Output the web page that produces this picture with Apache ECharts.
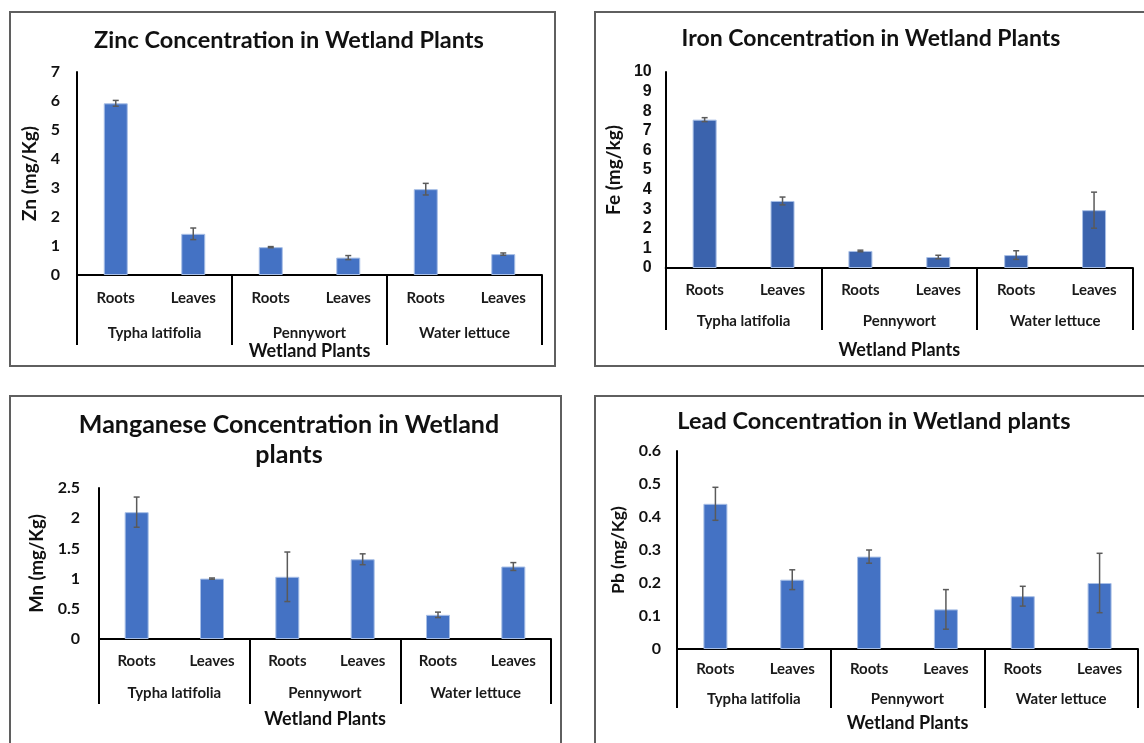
<!DOCTYPE html>
<html>
<head>
<meta charset="UTF-8">
<title>Metal Concentration in Wetland Plants</title>
<style>
body{margin:0;background:#fff;width:1144px;height:743px;overflow:hidden;position:relative;}
.panel{position:absolute;border:2px solid #5f5f5f;box-sizing:border-box;}
.panel .chart{position:absolute;left:0;top:0;right:0;bottom:0;}
</style>
</head>
<body>
	<div class="panel" id="p_zn"><div class="chart" id="zn_main"></div></div>
	<div class="panel" id="p_fe"><div class="chart" id="fe_main"></div></div>
	<div class="panel" id="p_mn"><div class="chart" id="mn_main"></div></div>
	<div class="panel" id="p_pb"><div class="chart" id="pb_main"></div></div>
<script type="text/javascript" src="https://cdn.jsdelivr.net/npm/echarts@6/dist/echarts.min.js"></script>
<script type="text/javascript">
// categories
var parts = ['Roots','Leaves','Roots','Leaves','Roots','Leaves'];
var plants = ['Typha latifolia','Pennywort','Water lettuce'];

// zinc (mg/Kg): mean and error
var znMean = [5.92, 1.42, 0.96, 0.60, 2.96, 0.72];
var znErr  = [0.10, 0.20, 0.02, 0.07, 0.20, 0.04];
var znTicks = [0, 7, 1];

// iron (mg/kg)
var feMean = [7.57, 3.42, 0.87, 0.56, 0.66, 2.95];
var feErr  = [0.10, 0.20, 0.04, 0.09, 0.22, 0.92];
var feTicks = [0, 10, 1];

// manganese (mg/Kg)
var mnMean = [2.10, 1.00, 1.03, 1.32, 0.40, 1.20];
var mnErr  = [0.25, 0.01, 0.41, 0.09, 0.045, 0.065];
var mnTicks = [0, 2.5, 0.5];

// lead (mg/Kg)
var pbMean = [0.44, 0.21, 0.28, 0.12, 0.16, 0.20];
var pbErr  = [0.05, 0.03, 0.02, 0.06, 0.03, 0.09];
var pbTicks = [0, 0.6, 0.1];

var calibri = 'Lato, "Open Sans", sans-serif';

function makePanel(id, box, cfg){
	var p = document.getElementById('p_' + id);
	p.style.left = box.x + 'px';
	p.style.top = box.y + 'px';
	p.style.width = box.w + 'px';
	p.style.height = box.h + 'px';
	var ox = box.x + 2, oy = box.y + 2;     //---content origin (inside border)
	var g = cfg.grid;

	var errData = [];
	for (var i = 0; i < cfg.mean.length; i++) {
		errData.push([i, cfg.mean[i] - cfg.err[i], cfg.mean[i] + cfg.err[i]]);
	}

	var chart = echarts.init(document.getElementById(id + '_main'));
	chart.setOption({
		animation: false,
		title: {
			text: cfg.title,
			left: cfg.titleX - ox,
			top: cfg.titleY - oy,
			textAlign: 'center',
			textStyle: {
				fontFamily: calibri, fontWeight: 'bold', fontSize: cfg.titleSize,
				lineHeight: cfg.titleLH || cfg.titleSize, color: '#111'
			}
		},
		grid: {
			left: g.x - ox, top: g.y - oy,
			width: g.x2 - g.x, height: g.y2 - g.y,
			containLabel: false
		},
		xAxis: [{
			type: 'category',
			data: parts,
			position: 'bottom',
			axisLine: {show: true, lineStyle: {color: '#000', width: 2}},
			axisTick: {show: false},
			axisLabel: {margin: cfg.lab1, fontFamily: calibri, fontWeight: 'bold', fontSize: 15, color: '#1a1a1a'},
			name: 'Wetland Plants',
			nameLocation: 'middle',
			nameGap: cfg.nameGap,
			nameTextStyle: {fontFamily: calibri, fontWeight: 'bold', fontSize: 18, color: '#111'}
		}, {
			type: 'category',
			data: plants,
			position: 'bottom',
			offset: 0,
			axisLine: {show: false},
			axisTick: {show: true, length: cfg.sepLen, lineStyle: {color: '#000', width: 2}},
			axisLabel: {margin: cfg.lab2, fontFamily: calibri, fontWeight: 'bold', fontSize: 15, color: '#1a1a1a'}
		}],
		yAxis: {
			type: 'value',
			min: cfg.ticks[0], max: cfg.ticks[1], interval: cfg.ticks[2],
			axisLine: {show: true, lineStyle: {color: '#000', width: 2}},
			axisTick: {show: false},
			splitLine: {show: false},
			axisLabel: {
				margin: cfg.ylabMargin,
				fontFamily: cfg.yFont || calibri, fontWeight: 'bold',
				fontSize: 16, color: '#111'
			},
			name: cfg.yName,
			nameLocation: 'middle',
			nameGap: cfg.yNameGap,
			nameRotate: 90,
			nameTextStyle: {fontFamily: calibri, fontWeight: 'bold', fontSize: cfg.yNameSize, color: '#111'}
		},
		series: [{
			type: 'bar',
			data: cfg.mean,
			barWidth: 24,
			itemStyle: {color: cfg.color, borderColor: '#a8bfe6', borderWidth: 1}
		}, {
			type: 'custom',
			data: errData,
			z: 10,
			renderItem: function(params, api){
				var lo = api.coord([api.value(0), api.value(1)]);
				var hi = api.coord([api.value(0), api.value(2)]);
				var c = 3;
				var st = {stroke: '#5a5a5a', lineWidth: 1.5};
				return {
					type: 'group',
					children: [
						{type: 'line', shape: {x1: hi[0], y1: hi[1], x2: lo[0], y2: lo[1]}, style: st},
						{type: 'line', shape: {x1: hi[0]-c, y1: hi[1], x2: hi[0]+c, y2: hi[1]}, style: st},
						{type: 'line', shape: {x1: lo[0]-c, y1: lo[1], x2: lo[0]+c, y2: lo[1]}, style: st}
					]
				};
			}
		}]
	});
}

makePanel('zn', {x: 9, y: 11, w: 547, h: 356}, {
	title: 'Zinc Concentration in Wetland Plants', titleX: 284, titleY: 24, titleSize: 23.5,
	grid: {x: 77, y: 72, x2: 542, y2: 275},
	mean: znMean, err: znErr, ticks: znTicks, color: '#4472C4',
	lab1: 16, lab2: 51, sepLen: 70, nameGap: 67,
	ylabMargin: 17, yName: 'Zn (mg/Kg)', yNameGap: 30, yNameSize: 19
});

makePanel('fe', {x: 594, y: 11, w: 570, h: 356}, {
	title: 'Iron Concentration in Wetland Plants', titleX: 866, titleY: 22, titleSize: 23,
	grid: {x: 654, y: 72, x2: 1133, y2: 268},
	mean: feMean, err: feErr, ticks: feTicks, color: '#3B63AD',
	lab1: 15, lab2: 46, sepLen: 62, nameGap: 73,
	ylabMargin: 14, yFont: '"Liberation Sans", Arial, sans-serif',
	yName: 'Fe (mg/kg)', yNameGap: 31, yNameSize: 19
});

makePanel('mn', {x: 9, y: 395, w: 553, h: 370}, {
	title: 'Manganese Concentration in Wetland\nplants', titleX: 284, titleY: 405, titleSize: 25, titleLH: 30,
	grid: {x: 99, y: 488, x2: 551, y2: 639},
	mean: mnMean, err: mnErr, ticks: mnTicks, color: '#4472C4',
	lab1: 15, lab2: 47, sepLen: 65, nameGap: 71,
	ylabMargin: 19, yName: 'Mn (mg/Kg)', yNameGap: 41, yNameSize: 18.5
});

makePanel('pb', {x: 594, y: 395, w: 570, h: 370}, {
	title: 'Lead Concentration in Wetland plants', titleX: 869, titleY: 405, titleSize: 23.5,
	grid: {x: 677, y: 451, x2: 1138, y2: 649},
	mean: pbMean, err: pbErr, ticks: pbTicks, color: '#4472C4',
	lab1: 13, lab2: 43, sepLen: 59, nameGap: 65,
	ylabMargin: 16, yName: 'Pb (mg/Kg)', yNameGap: 40, yNameSize: 17.5
});
</script>
</body>
</html>
